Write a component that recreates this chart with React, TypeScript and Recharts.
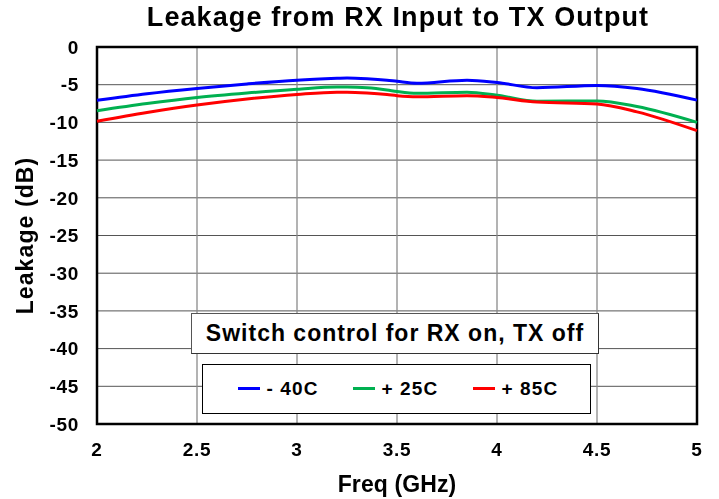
import React from 'react';
import { LineChart, Line, XAxis, YAxis, CartesianGrid, Legend, ReferenceArea } from 'recharts';

const freq = [2.0, 2.25, 2.5, 2.75, 3.0, 3.2, 3.25, 3.35, 3.45, 3.5, 3.6, 3.85, 4.0, 4.2, 4.5, 4.7, 5.0];
const m40 = [-7.07, -6.2, -5.5, -4.9, -4.4, -4.15, -4.1, -4.2, -4.4, -4.55, -4.8, -4.4, -4.7, -5.4, -5.1, -5.5, -7.05];
const p25 = [-8.45, -7.5, -6.7, -6.1, -5.6, -5.3, -5.3, -5.4, -5.7, -5.9, -6.15, -6.0, -6.4, -7.2, -7.15, -7.9, -10.0];
const p85 = [-9.85, -8.7, -7.7, -6.9, -6.3, -6.0, -6.0, -6.1, -6.3, -6.45, -6.6, -6.45, -6.7, -7.3, -7.55, -8.6, -11.1];

const xTicks = [2, 2.5, 3, 3.5, 4, 4.5, 5];
const yTicks = [0, -5, -10, -15, -20, -25, -30, -35, -40, -45, -50];
const seriesNames = ['- 40C', '+ 25C', '+ 85C'];
const seriesColors = ['#0000ff', '#00b050', '#ff0000'];
const seriesKeys = ['m40', 'p25', 'p85'];

const data = freq.map((f, i) => ({ f, m40: m40[i], p25: p25[i], p85: p85[i] }));

const FONT = '"Liberation Sans", Arial, sans-serif';
const itemLeft = [35, 150, 270];

const LegendBoxes = () => (
  <div style={{ position: 'relative', width: 409, height: 102, fontFamily: FONT, fontWeight: 'bold', color: '#000' }}>
    <div style={{ position: 'absolute', left: 0, top: 0, width: 408, height: 41, border: '1px solid #555', borderRight: '1.5px solid #333', borderBottom: '1.5px solid #333', background: '#fff', boxSizing: 'border-box', display: 'flex', alignItems: 'center', justifyContent: 'center', fontSize: 23, letterSpacing: 1, whiteSpace: 'nowrap' }}>
      Switch control for RX on, TX off
    </div>
    <div style={{ position: 'absolute', left: 10.5, top: 51, width: 389, height: 50, border: '1px solid #000', background: '#fff', boxSizing: 'border-box', fontSize: 19, letterSpacing: 1.1 }}>
      {seriesNames.map((n, i) => (
        <div key={n} style={{ position: 'absolute', left: itemLeft[i], top: 0, height: 48, display: 'flex', alignItems: 'center', whiteSpace: 'nowrap' }}>
          <div style={{ width: 22, height: 2.5, background: seriesColors[i], marginRight: 7 }} />
          <span>{n}</span>
        </div>
      ))}
    </div>
  </div>
);

export default function App() {
  return (
    <div style={{ position: 'fixed', left: 0, top: 0, width: 719, height: 499, background: '#fff' }}>
      <div style={{ position: 'absolute', left: 0, top: 2, width: 796, textAlign: 'center', fontFamily: FONT, fontWeight: 'bold', fontSize: 27, letterSpacing: 1.1, color: '#000', whiteSpace: 'nowrap' }}>
        Leakage from RX Input to TX Output
      </div>
      <LineChart width={719} height={499} data={data} margin={{ top: 47, right: 22, left: 0, bottom: 0 }} style={{ fontFamily: FONT }}>
        <CartesianGrid vertical={false} stroke="#555" strokeWidth={1} />
        <CartesianGrid horizontal={false} stroke="#8a8a8a" strokeWidth={1.3} />
        <XAxis
          dataKey="f"
          type="number"
          domain={[2, 5]}
          ticks={xTicks}
          height={75}
          tickSize={0}
          tickMargin={19}
          axisLine={false}
          tick={{ fill: '#000', fontSize: 19, fontWeight: 'bold', fontFamily: FONT, letterSpacing: 0.7 }}
          label={{ value: 'Freq (GHz)', position: 'insideBottom', offset: 7, style: { fill: '#000', fontSize: 23, fontWeight: 'bold', fontFamily: FONT, letterSpacing: 0.1 } }}
        />
        <YAxis
          type="number"
          domain={[-50, 0]}
          ticks={yTicks}
          width={97}
          tickSize={0}
          tickMargin={18}
          axisLine={false}
          tick={{ fill: '#000', fontSize: 19, fontWeight: 'bold', fontFamily: FONT, letterSpacing: 0.7 }}
          label={{ value: 'Leakage (dB)', angle: -90, position: 'insideLeft', offset: 25, style: { textAnchor: 'middle', fill: '#000', fontSize: 23, fontWeight: 'bold', fontFamily: FONT, letterSpacing: 1.1 } }}
        />
        <ReferenceArea x1={2} x2={5} y1={-50} y2={0} fill="none" stroke="#000" strokeWidth={2.5} ifOverflow="visible" />
        {seriesKeys.map((k, i) => (
          <Line key={k} type="monotone" dataKey={k} name={seriesNames[i]} stroke={seriesColors[i]} strokeWidth={3} dot={false} activeDot={false} isAnimationActive={false} />
        ))}
        <Legend layout="vertical" align="center" verticalAlign="middle" content={() => <LegendBoxes />} wrapperStyle={{ left: 191, top: 312.5, width: 409, height: 102 }} />
      </LineChart>
    </div>
  );
}
